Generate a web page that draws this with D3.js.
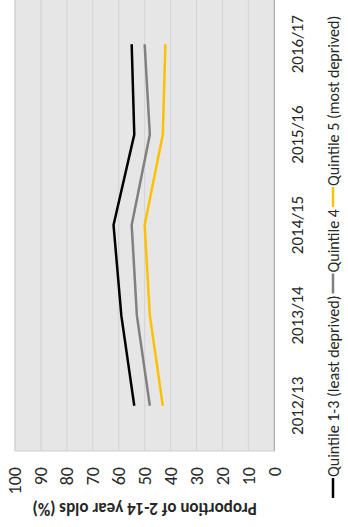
<!DOCTYPE html>
<html>
<head>
<meta charset="utf-8">
<script src="https://cdn.jsdelivr.net/npm/d3@7"></script>
<style>
  body { margin: 0; background: #fff; }
  text { font-family: Carlito, "Liberation Sans Narrow", "DejaVu Sans Condensed", "Open Sans", sans-serif; }
</style>
</head>
<body>
<svg id="chart" width="348" height="527"></svg>
<script>
const years = ["2012/13", "2013/14", "2014/15", "2015/16", "2016/17"];
const quintile13 = [54, 59, 62, 54, 55];
const quintile4 = [48, 53, 55, 48, 50];
const quintile5 = [43, 48, 50, 43, 42];
const seriesNames = ["Quintile 1-3 (least deprived)", "Quintile 4", "Quintile 5 (most deprived)"];
const seriesColors = ["#000000", "#808080", "#ffc000"];
const valueTicks = [0, 10, 20, 30, 40, 50, 60, 70, 80, 90, 100];

const series = [quintile13, quintile4, quintile5].map((vals, i) => ({
  name: seriesNames[i],
  color: seriesColors[i],
  values: vals.map((v, j) => ({ year: years[j], value: v }))
}));

// the whole chart is drawn upright (527 wide, 348 tall) and then turned a quarter left
const svg = d3.select("#chart");
const g = svg.append("g").attr("transform", "translate(0,527) rotate(-90)");

const plotLeft = 76, plotRight = 528, plotTop = 15, plotBottom = 274.3;

const x = d3.scaleBand().domain(years).range([plotLeft, plotRight]);
const y = d3.scaleLinear().domain([0, 100]).range([plotBottom, plotTop]);

g.append("rect")
  .attr("x", plotLeft).attr("y", plotTop)
  .attr("width", plotRight - plotLeft).attr("height", plotBottom - plotTop)
  .attr("fill", "#e6e6e6")
  .attr("stroke", "#cfcfcf");

g.selectAll(".grid")
  .data(valueTicks.filter(d => d > 0))
  .enter().append("line")
  .attr("x1", plotLeft).attr("x2", plotRight)
  .attr("y1", d => y(d)).attr("y2", d => y(d))
  .attr("stroke", "#d3d3d3")
  .attr("stroke-width", 1);

g.append("line")
  .attr("x1", plotLeft).attr("x2", plotRight)
  .attr("y1", y(0)).attr("y2", y(0))
  .attr("stroke", "#a6a6a6");

// value axis
const yAxis = g.append("g")
  .attr("transform", `translate(${plotLeft},0)`)
  .call(d3.axisLeft(y).tickValues(valueTicks).tickSize(0).tickPadding(16));
yAxis.select(".domain").remove();
yAxis.selectAll("text")
  .attr("font-family", null)
  .attr("font-size", 18)
  .attr("fill", "#262626");

// category axis
const xAxis = g.append("g")
  .attr("transform", `translate(0,${plotBottom})`)
  .call(d3.axisBottom(x).tickSize(0).tickPadding(17));
xAxis.select(".domain").remove();
xAxis.selectAll("text")
  .attr("font-family", null)
  .attr("font-size", 17)
  .attr("fill", "#262626");

// lines
const line = d3.line()
  .x(d => x(d.year) + x.bandwidth() / 2)
  .y(d => y(d.value));

g.selectAll(".series")
  .data(series)
  .enter().append("path")
  .attr("d", d => line(d.values))
  .attr("fill", "none")
  .attr("stroke", d => d.color)
  .attr("stroke-width", 2.5);

// axis title
g.append("text")
  .attr("transform", `translate(24,${(plotTop + plotBottom) / 2}) rotate(-90)`)
  .attr("text-anchor", "middle")
  .attr("font-size", 17)
  .attr("font-weight", "bold")
  .attr("fill", "#262626")
  .text("Proportion of 2-14 year olds (%)");

// legend
const legend = g.append("g").attr("transform", "translate(29,333)");
let cursor = 0;
series.forEach(s => {
  legend.append("line")
    .attr("x1", cursor).attr("x2", cursor + 20)
    .attr("y1", 0).attr("y2", 0)
    .attr("stroke", s.color)
    .attr("stroke-width", 2.5);
  cursor += 21;
  const t = legend.append("text")
    .attr("x", cursor)
    .attr("y", 0)
    .attr("dy", "0.35em")
    .attr("font-size", 16)
    .attr("fill", "#262626")
    .text(s.name);
  cursor += t.node().getComputedTextLength() + 2;
});
</script>
</body>
</html>
